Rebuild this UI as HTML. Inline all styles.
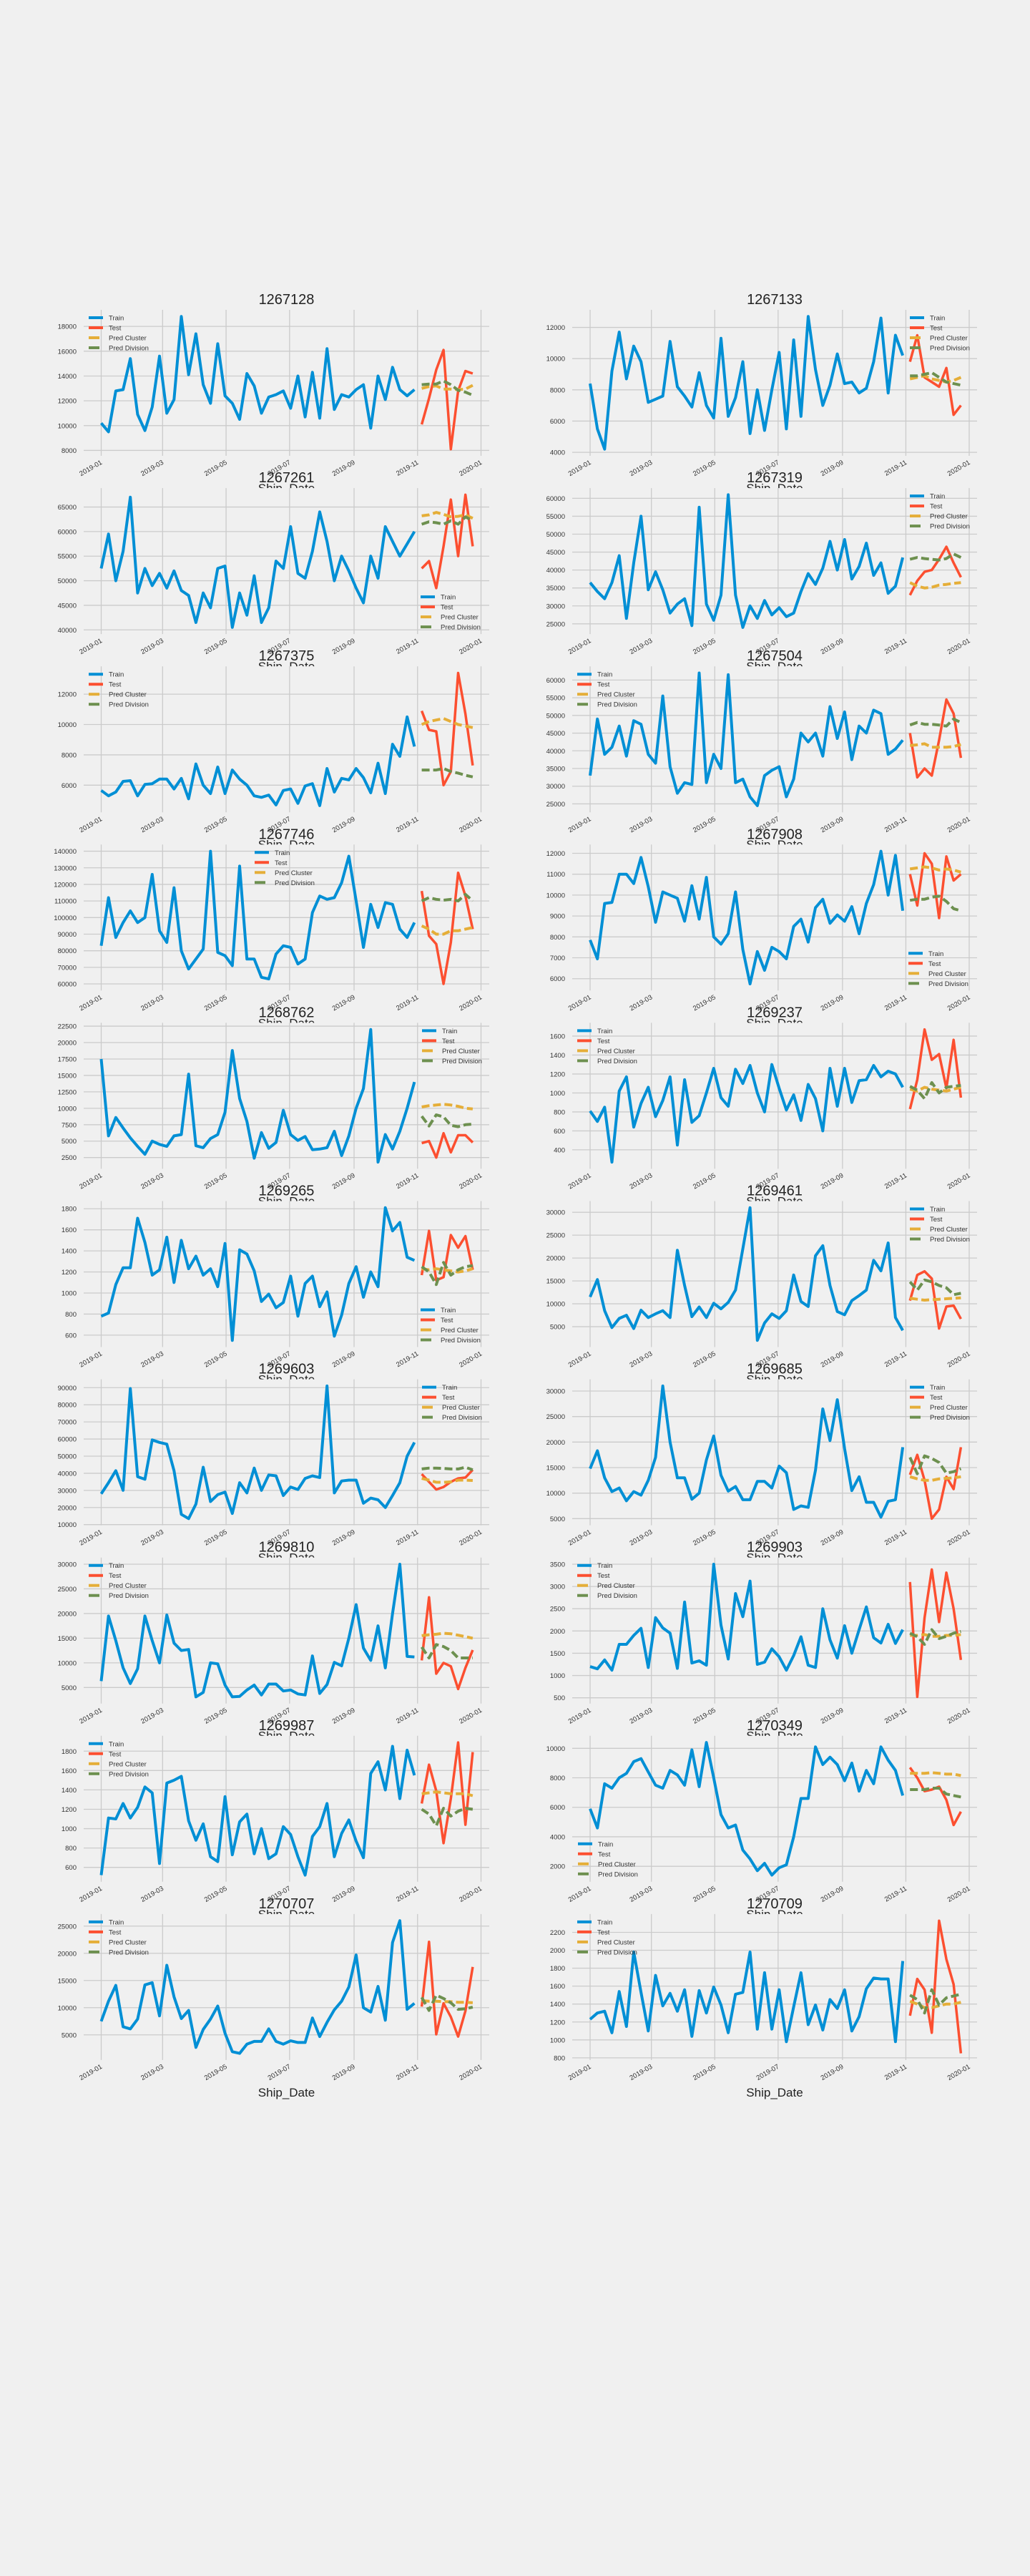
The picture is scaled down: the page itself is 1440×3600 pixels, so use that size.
<!DOCTYPE html>
<html><head><meta charset="utf-8">
<style>
html,body{margin:0;padding:0;background:#f0f0f0;}
svg{display:block;font-family:"Liberation Sans",sans-serif;}
</style></head>
<body>
<svg id="fig" width="1440" height="3600" viewBox="0 0 1440 3600" xmlns="http://www.w3.org/2000/svg">
<rect x="0" y="0" width="1440" height="3600" fill="#f0f0f0"/>
</svg>
<script>
const panelIds = ["1267128","1267133","1267261","1267319","1267375","1267504","1267746","1267908","1268762","1269237","1269265","1269461","1269603","1269685","1269810","1269903","1269987","1270349","1270707","1270709"];
const legendLoc = ["ul","ur","lr","ur","ul","ul","uc","lr","ur","ul","lr","ur","ur","ur","ul","ul","ul","ll","ul","ul"];
const yTickStart = [8000,4000,40000,25000,6000,25000,60000,6000,2500,400,600,5000,10000,5000,5000,500,600,2000,5000,800];
const yTickStep  = [2000,2000,5000,5000,2000,5000,10000,1000,2500,200,200,5000,10000,5000,5000,500,200,2000,5000,200];
const yTickEnd   = [18000,12000,65000,60000,12000,60000,140000,12000,22500,1600,1800,30000,90000,30000,30000,3500,1800,10000,25000,2200];
const monthLabels = ["2019-01","2019-03","2019-05","2019-07","2019-09","2019-11","2020-01"];
const monthDays = [0,59,120,181,243,304,365];

const trainValues = [
[10200,9500,12800,12900,15400,10900,9600,11500,15600,11000,12100,18800,14100,17400,13300,11800,16600,12400,11800,10500,14200,13200,11000,12300,12500,12800,11400,14000,10700,14300,10600,16200,11300,12500,12300,12900,13300,9800,14000,12100,14700,12900,12400,12900],
[8400,5500,4200,9200,11700,8700,10800,9800,7200,7400,7600,11100,8200,7600,6900,9100,7000,6200,11300,6300,7500,9800,5200,8000,5400,8000,10400,5500,11200,6300,12700,9300,7000,8300,10300,8400,8500,7800,8100,9800,12600,7800,11500,10200],
[52500,59500,50000,56000,67000,47500,52500,49000,51500,48500,52000,48000,47000,41500,47500,44500,52500,53000,40500,47500,43000,51000,41500,44500,54000,52500,61000,51500,50500,56000,64000,58000,50000,55000,52000,48500,45500,55000,50500,61000,58000,55000,57500,60000],
[36500,34000,32000,36500,44000,26500,42000,55000,34500,39500,34500,28000,30500,32000,24500,57500,30500,26000,33000,61000,33000,24000,30000,26500,31500,27500,29500,27000,28000,34000,39000,36000,40500,48000,40000,48500,37500,41000,47500,38500,42000,33500,35500,43500],
[5650,5300,5550,6250,6300,5300,6050,6100,6400,6400,5750,6450,5100,7400,6000,5450,7200,5450,7000,6400,6000,5300,5200,5350,4700,5650,5750,4800,5950,6100,4650,7100,5550,6450,6350,7100,6500,5500,7450,5450,8700,7900,10500,8550],
[33000,49000,39000,41000,47000,38500,48500,47500,39000,36500,55500,35500,28000,31000,30500,62000,31000,39000,35000,61500,31000,32000,27000,24500,33000,34500,35500,27000,32000,45000,42500,45000,38500,52500,43500,51000,37500,47000,45000,51500,50500,39000,40500,43000],
[83000,112000,88000,97000,104000,97000,100000,126000,92000,85000,118000,80000,69000,75000,81000,140000,79000,77000,71000,131000,75000,75000,64000,63000,78000,83000,82000,72000,75000,103000,113000,111000,112000,121000,137000,110000,82000,108000,94000,109000,108000,93000,88000,97000],
[7850,6950,9600,9650,11000,11000,10550,11800,10400,8700,10150,10000,9850,8750,10450,8850,10850,8000,7650,8150,10150,7400,5750,7300,6400,7500,7300,6950,8500,8850,7750,9400,9800,8650,9050,8750,9450,8150,9600,10500,12100,10000,11900,9250],
[17500,5800,8600,7000,5500,4200,3000,5000,4500,4200,5800,6000,15200,4300,4000,5400,6000,9400,18800,11500,8000,2400,6300,3900,4800,9700,6000,5100,5700,3700,3800,4000,6500,2800,5800,10000,13000,22000,1800,6000,3800,6500,10000,14000],
[810,700,850,270,1020,1170,640,890,1060,750,920,1170,450,1140,690,760,1000,1260,950,860,1250,1100,1290,1000,800,1300,1050,820,980,710,1090,940,600,1260,860,1260,900,1130,1140,1290,1170,1230,1200,1060],
[780,810,1080,1240,1240,1710,1480,1170,1220,1530,1100,1500,1230,1350,1170,1230,1060,1470,550,1410,1370,1210,920,990,860,910,1160,780,1090,1160,870,1010,590,790,1090,1250,960,1200,1060,1810,1590,1670,1340,1310],
[11500,15300,8500,4800,6800,7500,4600,8600,7000,7800,8500,7000,21700,14000,7200,9300,7000,10100,8900,10300,13000,22000,31000,2000,5800,7800,6800,8500,16300,10500,9400,20500,22700,14000,8300,7600,10700,11800,13000,19500,17200,23300,7000,4200],
[28000,34500,41500,30000,89500,38000,36500,59500,58000,57000,41500,16000,13500,22000,43500,23500,27500,29000,16500,34500,28500,43000,30000,39000,38500,27000,32000,30500,37000,38500,37500,91000,28500,35500,36000,36000,22500,25500,24500,20000,27000,34500,50000,58000],
[14800,18300,13000,10300,11000,8500,10300,9600,12500,17000,31000,20000,13000,13000,8800,10000,16500,21200,13500,10400,11300,8700,8700,12300,12300,11000,15300,14000,6800,7500,7200,14500,26500,20300,28300,18700,10500,13200,8200,8200,5300,8400,8700,19000],
[6300,19500,14500,9000,5800,8800,19500,14500,10000,19700,14000,12500,12700,3100,4000,10000,9800,5500,3100,3200,4500,5500,3500,5700,5700,4300,4500,3700,3500,11400,3800,5600,10100,9400,15000,21800,13000,10500,17500,9000,20000,30000,11300,11200],
[1200,1150,1350,1120,1700,1700,1900,2060,1180,2300,2070,1950,1160,2650,1280,1330,1230,3500,2130,1370,2840,2320,3120,1250,1300,1600,1420,1120,1450,1870,1230,1180,2500,1800,1390,2120,1500,2030,2540,1850,1730,2150,1720,2030],
[520,1110,1100,1260,1110,1220,1430,1370,640,1470,1500,1540,1080,880,1050,710,660,1330,730,1070,1150,740,1000,690,740,1020,940,710,520,920,1020,1260,710,950,1090,870,700,1570,1690,1400,1850,1310,1810,1550],
[5900,4600,7600,7300,8000,8300,9100,9300,8400,7500,7300,8500,8200,7500,9900,7400,10400,8000,5500,4600,4800,3100,2500,1700,2200,1400,1900,2100,4000,6600,6600,10100,8900,9400,8900,7800,9000,7100,8500,7600,10100,9200,8500,6800],
[7500,11200,14100,6500,6100,7900,14200,14600,8500,17800,12000,8000,9500,2700,6000,7900,10300,5300,1900,1600,3300,3800,3800,6100,3800,3300,3900,3600,3600,8100,4700,7300,9600,11200,13800,19700,10000,9200,13900,7700,22000,26000,9700,10800],
[1230,1300,1320,1080,1540,1150,1980,1530,1100,1720,1380,1520,1320,1560,1040,1550,1300,1590,1390,1080,1510,1530,1980,1120,1750,1120,1560,980,1370,1750,1170,1390,1110,1450,1350,1560,1100,1260,1570,1690,1680,1680,980,1880]
];
const testValues = [
[10100,12200,14500,16100,8100,12800,14400,14200],
[9800,11500,8800,8500,8200,9400,6400,7000],
[52500,54000,48500,57000,66500,55000,67500,57000],
[33000,37000,39500,40000,43000,46500,42000,38000],
[10900,9650,9550,6000,6900,13400,10700,7300],
[45000,32500,35000,33000,43000,54500,50500,38000],
[116000,89000,84000,60000,85000,127000,113000,93000],
[11000,9500,12000,11500,8900,11850,10700,11000],
[4700,5000,2500,6200,3300,5900,5900,4800],
[830,1140,1670,1350,1410,1050,1560,950],
[1170,1590,1120,1150,1550,1430,1540,1220],
[10700,16300,17100,15500,4600,9400,9600,6700],
[39500,35000,30500,32000,35000,37000,37500,42000],
[13600,17500,12500,5000,6800,13200,10800,19000],
[10500,23300,7800,10000,9300,4700,9000,12600],
[3100,520,2300,3380,2200,3310,2500,1350],
[1260,1660,1390,850,1310,1890,1040,1790],
[8700,8000,7100,7200,7400,6500,4800,5700],
[10200,22100,5100,10800,8300,4700,9400,17500],
[1270,1680,1560,1080,2330,1900,1620,850]
];
const clusterValues = [
[13000,13150,13200,12950,12950,12900,12950,13250],
[8700,8800,8900,8700,8600,8500,8600,8800],
[63200,63400,63900,63500,63000,63100,63400,62700],
[36500,35500,35000,35200,35800,36000,36300,36500],
[10000,10200,10300,10400,10200,10000,9900,9800],
[41500,41700,42000,41000,41000,41000,41200,41800],
[95000,93000,90000,90000,92000,92000,93000,94000],
[11250,11300,11350,11300,11200,11250,11200,11100],
[10200,10400,10500,10600,10500,10300,10000,9900],
[1040,1020,1060,1040,1030,1020,1040,1060],
[1230,1220,1230,1220,1210,1200,1210,1230],
[11200,11000,10800,10900,11000,11100,11200,11300],
[37000,36000,34800,34700,35000,36000,36000,35800],
[13200,12800,12500,12500,12800,12900,13000,13200],
[15500,15700,15800,16000,15900,15600,15300,15000],
[1900,1900,1920,1880,1880,1900,1900,1920],
[1360,1370,1380,1370,1360,1360,1360,1340],
[8300,8300,8300,8350,8300,8250,8250,8150],
[11300,11200,11200,11100,11100,11000,11000,10900],
[1430,1400,1360,1360,1380,1400,1400,1420]
];
const divisionValues = [
[13300,13350,13350,13600,13300,12850,12700,12450],
[8900,8900,9000,9100,8800,8500,8400,8300],
[61500,62000,61800,61500,62200,61500,63000,62200],
[43000,43500,43200,43000,42800,43200,44500,43500],
[7000,7000,7000,7100,6900,6800,6650,6550],
[47300,48000,47500,47500,47300,47000,49000,48000],
[110000,112000,111000,110500,111000,110000,114000,110000],
[9750,9800,9800,9900,9950,9700,9350,9250],
[8800,7300,9000,8700,7400,7200,7500,7600],
[1070,1030,940,1110,1000,1060,1070,1080],
[1250,1200,1080,1290,1170,1220,1250,1260],
[14800,13000,15200,14800,14000,13500,12000,12300],
[42500,43000,43000,42800,42500,42500,43500,42000],
[17000,13800,17300,16800,16000,13900,14200,14800],
[13200,11000,13700,13300,12500,11000,11000,11000],
[1950,1870,1700,2030,1830,1880,1950,1990],
[1200,1150,1030,1210,1130,1180,1210,1200],
[7200,7200,7200,7300,7300,6900,6800,6700],
[11900,9500,12300,11700,10900,9700,9800,10100],
[1500,1450,1300,1560,1390,1470,1490,1510]
];

const NS = "http://www.w3.org/2000/svg";
const fig = document.getElementById("fig");
const COLORS = {train:"#008fd5", test:"#fc4f30", cluster:"#e5ae38", division:"#6d904f"};
function mk(tag, attrs, parent){ const e=document.createElementNS(NS,tag); for(const k in attrs) e.setAttribute(k,attrs[k]); parent.appendChild(e); return e; }

panelIds.forEach(function(pid, p){
  const col = p % 2, row = Math.floor(p / 2);
  const axL = col === 0 ? 117 : 800;
  const axR = col === 0 ? 684 : 1366;
  const x0 = col === 0 ? 141.5 : 825;
  const pxDay = (col === 0 ? 672.5 - 141.5 : 1355 - 825) / 365;
  const axT = 433 + row * 249.1;
  const axB = axT + 204;
  const g = mk("g", {}, fig);
  
  

  // axes background patch (covers previous row's x-axis title like matplotlib)
  const bg = mk("rect", {x:axL, y:axT, width:axR-axL, height:axB-axT, fill:"#f0f0f0"}, g);
  
  

  const all = trainValues[p].concat(testValues[p], clusterValues[p], divisionValues[p]);
  let mn = Math.min.apply(null, all), mx = Math.max.apply(null, all);
  const pad = (mx - mn) * 0.05; mn -= pad; mx += pad;
  const yS = v => axB - (v - mn) / (mx - mn) * (axB - axT);
  const xS = d => x0 + d * pxDay;

  for (let t = yTickStart[p]; t <= yTickEnd[p] + 1e-9; t += yTickStep[p]) {
    const y = yS(t);
    const gl = mk("line", {x1:axL, x2:axR, y1:y, y2:y, stroke:"#cbcbcb", "stroke-width":1.3}, g);
    
    
    const tl = mk("text", {x:axL-10, y:y+3.5, "text-anchor":"end", "font-size":"9.5", fill:"#333"}, g);
    tl.textContent = String(t);
    
    
  }
  monthDays.forEach(function(d, i){
    const x = xS(d);
    const gl = mk("line", {x1:x, x2:x, y1:axT, y2:axB, stroke:"#cbcbcb", "stroke-width":1.3}, g);
    
    
    const tl = mk("text", {x:0, y:0, "text-anchor":"end", "font-size":"9.5", fill:"#333", transform:"translate("+(x+2)+","+(axB+11)+") rotate(-30)"}, g);
    tl.textContent = monthLabels[i];
    
    
  });

  function series(vals, startWeek, color, w, dash, name){
    const pts = vals.map((v, i) => xS((startWeek + i) * 7).toFixed(1) + "," + yS(v).toFixed(1)).join(" ");
    const attrs = {points:pts, fill:"none", stroke:color, "stroke-width":w, "stroke-linejoin":"round"};
    if (dash) attrs["stroke-dasharray"] = dash;
    const pl = mk("polyline", attrs, g);
    
    
  }
  series(trainValues[p], 0, COLORS.train, 4, null, 'train-line');
  series(testValues[p], 44, COLORS.test, 3.5, null, 'test-line');
  series(clusterValues[p], 44, COLORS.cluster, 4, "11,5", 'pred-cluster-line');
  series(divisionValues[p], 44, COLORS.division, 4, "11,5", 'pred-division-line');

  const tt = mk("text", {x:(axL+axR)/2, y:axT-8, "text-anchor":"middle", "font-size":"20", fill:"#222"}, g);
  tt.textContent = pid;
  
  
  const xl = mk("text", {x:(axL+axR)/2, y:axB+51, "text-anchor":"middle", "font-size":"17", fill:"#222"}, g);
  xl.textContent = "Ship_Date";
  
  

  const loc = legendLoc[p];
  let lx, ly;
  if (loc === "ul") { lx = axL + 7; ly = axT + 11; }
  else if (loc === "ur") { lx = axR - 94; ly = axT + 11; }
  else if (loc === "uc") { lx = axL + 239; ly = axT + 11; }
  else if (loc === "lr") { lx = axR - 96; ly = axB - 52; }
  else { lx = axL + 8; ly = axB - 53; }
  const lg = mk("g", {}, g);
  
  
  const entries = [["Train", COLORS.train, 20], ["Test", COLORS.test, 20], ["Pred Cluster", COLORS.cluster, 15], ["Pred Division", COLORS.division, 15]];
  entries.forEach(function(e, i){
    const y = ly + i * 14;
    const h = mk("line", {x1:lx, x2:lx + e[2], y1:y, y2:y, stroke:e[1], "stroke-width":4}, lg);
    
    
    const t = mk("text", {x:lx + 28, y:y + 3.5, "font-size":"9.5", fill:"#333"}, lg);
    t.textContent = e[0];
    
    
  });
});
</script>
</body></html>
